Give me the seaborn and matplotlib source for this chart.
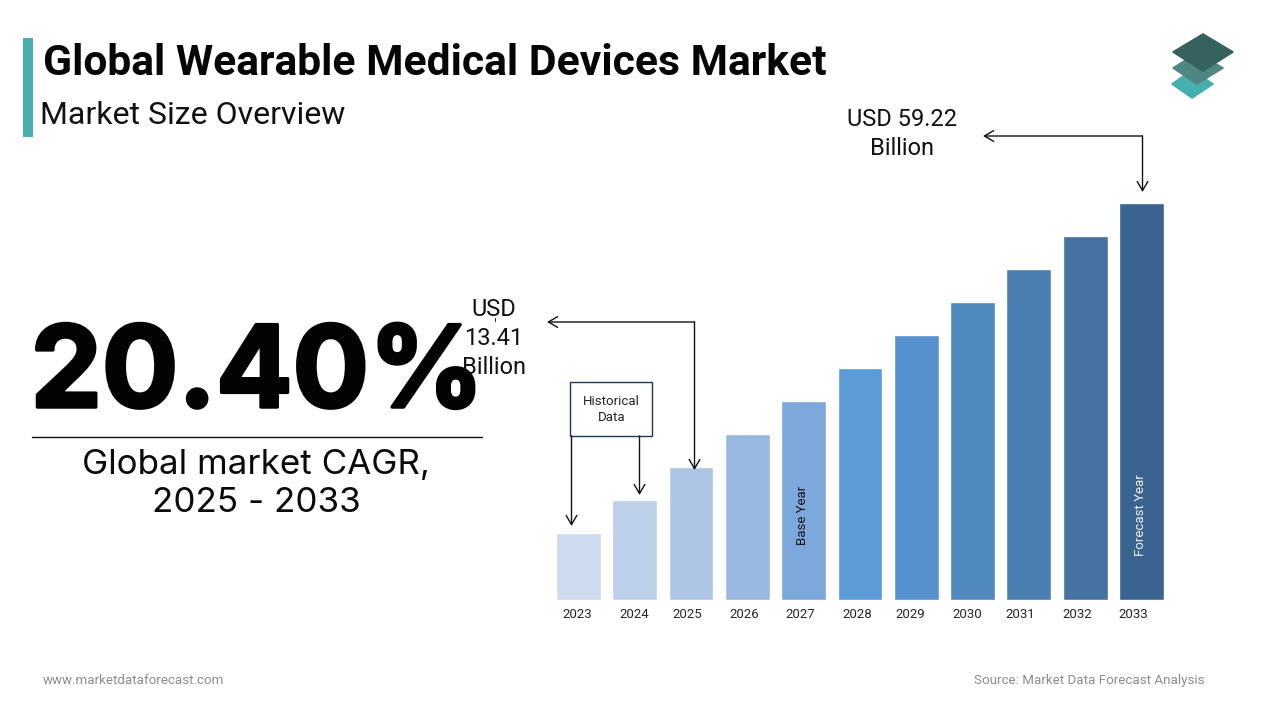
import matplotlib
matplotlib.use("Agg")
import matplotlib.pyplot as plt
import matplotlib.patheffects as pe
from matplotlib.patches import Polygon, Rectangle
import pandas as pd
import seaborn as sns

title = "Global Wearable Medical Devices Market"
subtitle = "Market Size Overview"
cagr = "20.40%"
cagr_label = "Global market CAGR,\n2025 - 2033"
years = ["2023", "2024", "2025", "2026", "2027", "2028", "2029", "2030", "2031", "2032", "2033"]
# Bars in the reference are schematic: heights are read off the picture, not scaled to the USD labels
bar_heights = [67, 100, 133, 166, 199, 232, 265, 298, 331, 364, 397]
bar_colors = ["#CFDBEF", "#BDD0EA", "#AEC6E5", "#98B8E0", "#7DA8DB", "#5B9BD7",
              "#5592CD", "#4F89BD", "#4B7FB1", "#4572A0", "#3A648F"]
tick_offsets = [-0.018, -0.005, -0.064, -0.052, -0.057, -0.044, -0.102, -0.092, -0.152, -0.137, -0.142]

sns.set_theme(style="white")
plt.rcParams["font.family"] = ["Roboto", "DejaVu Sans"]

fig = plt.figure(figsize=(12.8, 7.2), dpi=100, facecolor="white")
ax = fig.add_axes([550.3 / 1280, 120.3 / 720, 619.3 / 1280, 500 / 720])

df = pd.DataFrame({"year": years, "value": bar_heights})
sns.barplot(data=df, x="year", y="value", hue="year", palette=dict(zip(years, bar_colors)),
            width=0.795, legend=False, saturation=1, ax=ax)
ax.set_xlim(-0.5, 10.5)
ax.set_ylim(0, 500)
ax.set_xlabel("")
ax.set_ylabel("")
ax.set_yticks([])
ax.set_xticks([i + o for i, o in enumerate(tick_offsets)])
ax.set_xticklabels(years, fontsize=9.5, color="#262626")
ax.tick_params(axis="x", length=0, pad=6)
sns.despine(ax=ax, left=True, bottom=True)
ax.patch.set_alpha(0)

ax.text(3.98, 84, "Base Year", rotation=90, ha="center", va="center", fontsize=9.5, color="#111111")
ax.text(9.99, 85, "Forecast Year", rotation=90, ha="center", va="center", fontsize=9.5, color="#F2F2F2")

ov = fig.add_axes([0, 0, 1, 1], zorder=5)
ov.set_xlim(0, 1280)
ov.set_ylim(720, 0)
ov.axis("off")
ov.patch.set_alpha(0)

ov.add_patch(Rectangle((23, 38), 10, 99, fc="#48ADAB", ec="none"))
ov.text(43, 75, title, fontsize=30.7, fontweight="bold", color="#050505", va="baseline", ha="left")
ov.text(40.5, 124, subtitle, fontsize=23, color="#111111", va="baseline", ha="left")

for pts, c in [([(1172, 84), (1192, 70), (1213, 84), (1192, 98)], "#45AEAE"),
               ([(1173, 68), (1197, 53), (1223, 68), (1197, 84)], "#4F8583"),
               ([(1173, 52), (1203, 34), (1233, 52), (1203, 71)], "#35615F")]:
    ov.add_patch(Polygon(pts, closed=True, fc=c, ec=c, lw=1.2, joinstyle="round"))

big = ov.text(257.5, 407, cagr, fontsize=81.5, fontweight=700, family=["Inter", "DejaVu Sans"],
              color="#030303", ha="center", va="baseline")
big.set_path_effects([pe.withStroke(linewidth=2.5, foreground="#030303")])
ov.plot([32, 482], [436.5, 436.5], color="#111111", lw=1)
ov.text(256, 484, cagr_label, fontsize=25.2, family=["Inter", "DejaVu Sans"], color="#0A0A0A",
        ha="center", va="center", linespacing=1.27)

def arrow(x0, y0, x1, y1):
    ov.annotate("", xy=(x1, y1), xytext=(x0, y0),
                arrowprops=dict(arrowstyle="->,head_length=0.55,head_width=0.32", color="#111111",
                                lw=1, shrinkA=0, shrinkB=0))

ov.text(902, 134, "USD 59.22\nBillion", fontsize=17, color="#111111", ha="center", va="center", linespacing=1.34)
arrow(1142.5, 136, 983, 136)
arrow(1142.5, 136, 1142.5, 192)

ov.text(494, 338.5, "USD\n13.41\nBillion", fontsize=17, color="#111111", ha="center", va="center", linespacing=1.32)
ov.plot([494.5, 494.5], [318, 321], color="#111111", lw=0.7)
arrow(694.5, 322, 547, 322)
arrow(694.5, 322, 694.5, 470)

ov.add_patch(Rectangle((570, 382), 82, 54, fc="white", ec="#1F3559", lw=1))
ov.text(611.5, 409.5, "Historical\nData", fontsize=9.5, color="#222222", ha="center", va="center", linespacing=1.3)
arrow(571.5, 436, 571.5, 526)
arrow(639.5, 436, 639.5, 495)

ov.text(43, 684, "www.marketdataforecast.com", fontsize=9.6, color="#8C8C8C", ha="left", va="baseline")
ov.text(1204, 684, "Source: Market Data Forecast Analysis", fontsize=9.6, color="#8C8C8C", ha="right", va="baseline")

fig.savefig("out.png", dpi=100, facecolor="white")
